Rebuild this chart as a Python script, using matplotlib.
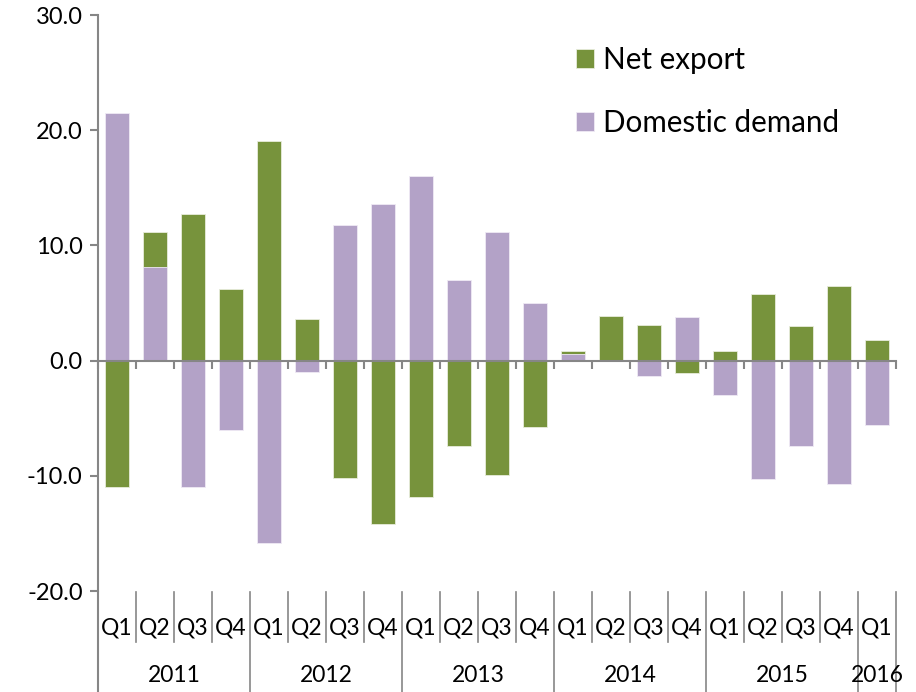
# Net export vs domestic demand contributions, quarterly 2011-2016
import matplotlib
matplotlib.use("Agg")
import matplotlib.pyplot as plt
from matplotlib.transforms import blended_transform_factory

plt.rcParams["font.family"] = ["Lato", "DejaVu Sans"]

years = ["2011", "2012", "2013", "2014", "2015", "2016"]
quarters_per_year = [4, 4, 4, 4, 4, 1]
quarter_names = ["Q1", "Q2", "Q3", "Q4"]

net_export = [-11.0, 11.2, 12.7, 6.2, 19.1, 3.6, -10.2, -14.2,
              -11.8, -7.4, -9.9, -5.8, 0.8, 3.9, 3.1, -1.1,
              0.8, 5.8, 3.0, 6.5, 1.8]
domestic_demand = [21.5, 8.1, -11.0, -6.0, -15.8, -1.0, 11.8, 13.6,
                   16.0, 7.0, 11.2, 5.0, 0.6, 0.0, -1.3, 3.8,
                   -3.0, -10.3, -7.4, -10.7, -5.6]

GREEN = "#77933C"
PURPLE = "#B3A2C7"
GRAY = "#868686"

# build the quarter labels from the year layout
labels = []
for n in quarters_per_year:
    labels += quarter_names[:n]
x = list(range(len(labels)))

fig = plt.figure(figsize=(9.16, 6.92), dpi=100)
ax = fig.add_axes([98 / 916, 101 / 692, 798 / 916, 576 / 692])

# overlapping bars, domestic demand drawn in front
ax.bar(x, net_export, width=0.62, color=GREEN, edgecolor="#E8EDDC",
       linewidth=0.6, label="Net export", zorder=2)
ax.bar(x, domestic_demand, width=0.62, color=PURPLE, edgecolor="#EFEAF4",
       linewidth=0.6, label="Domestic demand", zorder=3)

ax.set_xlim(-0.5, len(x) - 0.5)
ax.set_ylim(-20, 30)
ax.set_yticks([-20, -10, 0, 10, 20, 30])
ax.set_yticklabels(["%.1f" % v for v in [-20, -10, 0, 10, 20, 30]])

# axis styling: zero line as category axis, outward gray ticks
for side in ["top", "right"]:
    ax.spines[side].set_visible(False)
ax.spines["bottom"].set_position(("data", 0))
ax.spines["bottom"].set_color(GRAY)
ax.spines["bottom"].set_linewidth(1.5)
ax.spines["left"].set_color(GRAY)
ax.spines["left"].set_linewidth(1.5)
ax.spines["bottom"].set_zorder(4)

ax.set_xticks([i - 0.5 for i in range(len(x) + 1)])
ax.set_xticklabels([])
ax.tick_params(axis="x", direction="out", length=6, width=1.5, color=GRAY)
ax.tick_params(axis="y", direction="out", length=6, width=1.5, color=GRAY,
               labelsize=17, pad=5)

# multi-level category labels below the plot
trans = blended_transform_factory(ax.transData, fig.transFigure)
y_top = 1 - 592 / 692
y_mid = 1 - 642 / 692
for i, q in enumerate(labels):
    ax.text(i, 1 - 628 / 692, q, transform=trans, ha="center", va="center",
            fontsize=16.5)

year_edges = [-0.5]
for n in quarters_per_year:
    year_edges.append(year_edges[-1] + n)

for b in range(len(x) + 1):
    edge = b - 0.5
    bottom = 0 if edge in year_edges else y_mid
    ax.plot([edge, edge], [y_top, bottom], transform=trans, color=GRAY,
            linewidth=1.2, clip_on=False)
# left axis runs down through the label rows
ax.plot([-0.5, -0.5], [y_top, 0], transform=trans, color=GRAY,
        linewidth=1.5, clip_on=False)

for k, yr in enumerate(years):
    centre = (year_edges[k] + year_edges[k + 1]) / 2
    ax.text(centre, 1 - 676 / 692, yr, transform=trans, ha="center",
            va="center", fontsize=16.5)

ax.legend(loc="upper left", bbox_to_anchor=(0.566, 0.992), frameon=False,
          fontsize=21.3, handlelength=0.6, handleheight=0.6, handletextpad=0.3,
          labelspacing=1.18)

plt.savefig("out.png", dpi=100)
plt.clf()
